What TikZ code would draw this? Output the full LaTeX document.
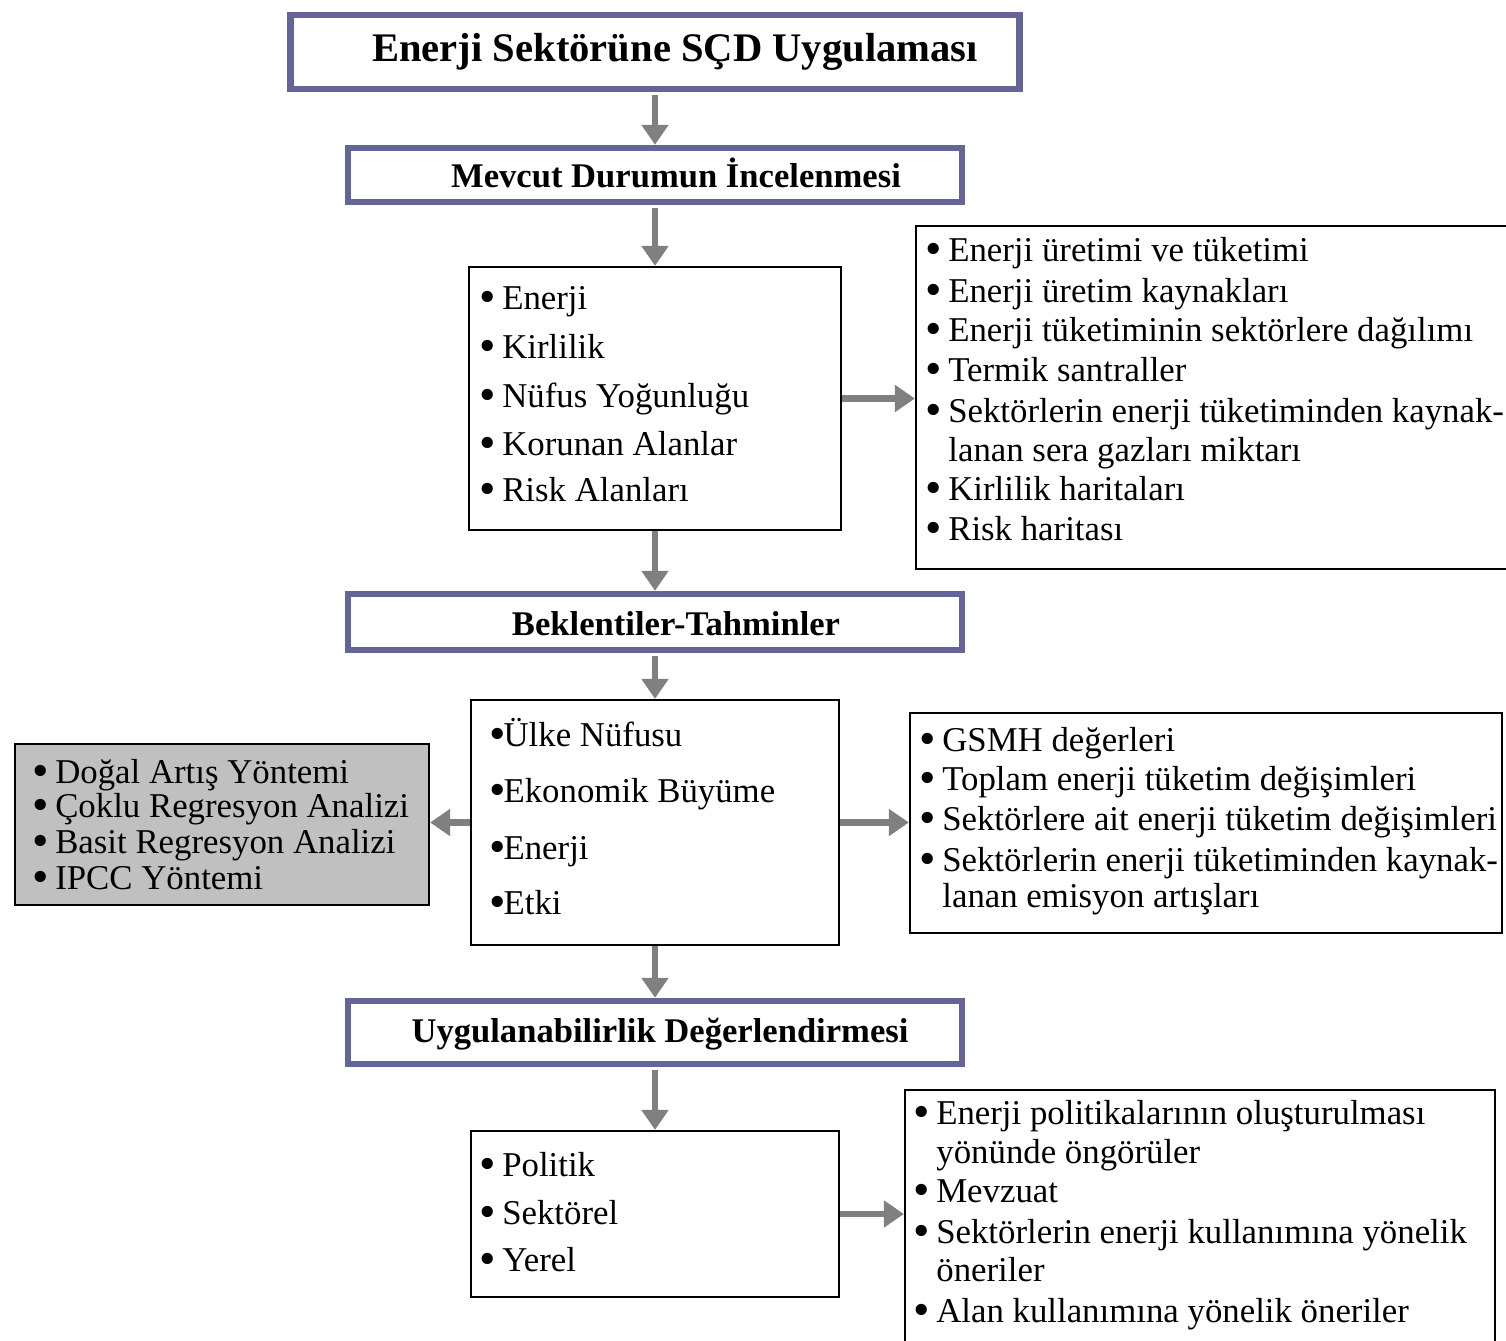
\documentclass[tikz,border=0pt]{standalone}
\usepackage{fontspec}
\setmainfont{Liberation Serif}
\usetikzlibrary{arrows.meta}
\definecolor{hdcol}{RGB}{100,100,152}
\definecolor{arrcol}{RGB}{128,128,128}
\definecolor{greyfill}{RGB}{192,192,192}
\newcommand\bul{\makebox[0.35em][c]{\raisebox{-0.09em}{\scalebox{1.35}{\textbullet}}}}
\tikzset{
  hdbox/.style={draw=hdcol, line width=3.2pt, rectangle, inner sep=0pt, fill=white},
  bodybox/.style={draw=black, line width=1.1pt, rectangle, inner sep=0pt},
  txt/.style={anchor=base west, inner sep=0pt, text height=0.66em, text depth=0.1em, font=\fontsize{17.4pt}{20pt}\selectfont},
  hdtxt/.style={anchor=base, inner sep=0pt, font=\bfseries\fontsize{17.3pt}{20pt}\selectfont},
  conn/.style={draw=arrcol, line width=3.2pt, -{Triangle[length=10pt,width=13pt]}, arrcol},
}
\begin{document}
\begin{tikzpicture}[x=0.5pt,y=-0.5pt]
\useasboundingbox (0,0) rectangle (1506,1340);
% heading boxes
\node[hdbox, minimum width=364.5pt, minimum height=37pt] (T) at (655,52) {};
\node[hdtxt, font=\bfseries\fontsize{20.3pt}{24pt}\selectfont] (Tt) at (675,61) {Enerji Sektörüne SÇD Uygulaması};
\node[hdbox, minimum width=307pt, minimum height=27pt] (M) at (655,175) {};
\node[hdtxt] (Mt) at (676,187) {Mevcut Durumun İncelenmesi};
\node[hdbox, minimum width=307pt, minimum height=28pt] (Bk) at (655,622) {};
\node[hdtxt] (Bkt) at (676,635) {Beklentiler-Tahminler};
\node[hdbox, minimum width=307pt, minimum height=31.5pt] (U) at (655,1032.5) {};
\node[hdtxt] (Ut) at (660,1042) {Uygulanabilirlik Değerlendirmesi};
% body boxes
\node[bodybox, minimum width=186pt, minimum height=131.5pt] (A) at (655,398.5) {};
\node[bodybox, minimum width=298pt, minimum height=171.5pt] (B) at (1214,397.5) {};
\node[bodybox, minimum width=184pt, minimum height=122.5pt] (C) at (655,822.5) {};
\node[bodybox, fill=greyfill, minimum width=207pt, minimum height=80.5pt] (D) at (222,824.5) {};
\node[bodybox, minimum width=296pt, minimum height=110pt] (E) at (1206,823) {};
\node[bodybox, minimum width=184pt, minimum height=83pt] (F) at (655,1214) {};
\node[bodybox, minimum width=295pt, minimum height=130pt] (G) at (1200,1220) {};
% box A texts
\node[txt] (a1) at (481,309) {\bul\ Enerji};
\node[txt] (a2) at (481,358) {\bul\ Kirlilik};
\node[txt] (a3) at (481,407) {\bul\ Nüfus Yoğunluğu};
\node[txt] (a4) at (481,455) {\bul\ Korunan Alanlar};
\node[txt] (a5) at (481,501) {\bul\ Risk Alanları};
% box B texts
\node[txt] (b1) at (927,261) {\bul\ Enerji üretimi ve tüketimi};
\node[txt] (b2) at (927,302) {\bul\ Enerji üretim kaynakları};
\node[txt] (b3) at (927,341) {\bul\ Enerji tüketiminin sektörlere dağılımı};
\node[txt] (b4) at (927,381) {\bul\ Termik santraller};
\node[txt] (b5) at (927,422) {\bul\ Sektörlerin enerji tüketiminden kaynak-};
\node[txt] (b6) at (948,461) {lanan sera gazları miktarı};
\node[txt] (b7) at (927,500) {\bul\ Kirlilik haritaları};
\node[txt] (b8) at (927,540) {\bul\ Risk haritası};
% box C texts
\node[txt] (c1) at (491,746) {\bul Ülke Nüfusu};
\node[txt] (c2) at (491,802) {\bul Ekonomik Büyüme};
\node[txt] (c3) at (491,859) {\bul Enerji};
\node[txt] (c4) at (491,914) {\bul Etki};
% box D texts
\node[txt] (d1) at (34,783) {\bul\ Doğal Artış Yöntemi};
\node[txt] (d2) at (34,817) {\bul\ Çoklu Regresyon Analizi};
\node[txt] (d3) at (34,853) {\bul\ Basit Regresyon Analizi};
\node[txt] (d4) at (34,889) {\bul\ IPCC Yöntemi};
% box E texts
\node[txt] (e1) at (921,751) {\bul\ GSMH değerleri};
\node[txt] (e2) at (921,790) {\bul\ Toplam enerji tüketim değişimleri};
\node[txt] (e3) at (921,830) {\bul\ Sektörlere ait enerji tüketim değişimleri};
\node[txt] (e4) at (921,871) {\bul\ Sektörlerin enerji tüketiminden kaynak-};
\node[txt] (e5) at (942,907) {lanan emisyon artışları};
% box F texts
\node[txt] (f1) at (481,1176) {\bul\ Politik};
\node[txt] (f2) at (481,1224) {\bul\ Sektörel};
\node[txt] (f3) at (481,1271) {\bul\ Yerel};
% box G texts
\node[txt] (g1) at (915,1124) {\bul\ Enerji politikalarının oluşturulması};
\node[txt] (g2) at (936,1163) {yönünde öngörüler};
\node[txt] (g3) at (915,1202) {\bul\ Mevzuat};
\node[txt] (g4) at (915,1243) {\bul\ Sektörlerin enerji kullanımına yönelik};
\node[txt] (g5) at (936,1281) {öneriler};
\node[txt] (g6) at (915,1322) {\bul\ Alan kullanımına yönelik öneriler};
% connectors
\draw[conn, shorten <=1.6pt] (T.south) -- (M.north);
\draw[conn, shorten <=1.6pt] (M.south) -- (A.north);
\draw[conn] (A.south) -- (Bk.north);
\draw[conn, shorten <=1.6pt] (Bk.south) -- (C.north);
\draw[conn] (C.south) -- (U.north);
\draw[conn, shorten <=1.6pt] (U.south) -- (F.north);
\draw[conn] (A.east) -- (A.east -| B.west);
\draw[conn] (C.west) -- (C.west -| D.east);
\draw[conn] (C.east) -- (C.east -| E.west);
\draw[conn] (F.east) -- (F.east -| G.west);
\end{tikzpicture}
\end{document}
